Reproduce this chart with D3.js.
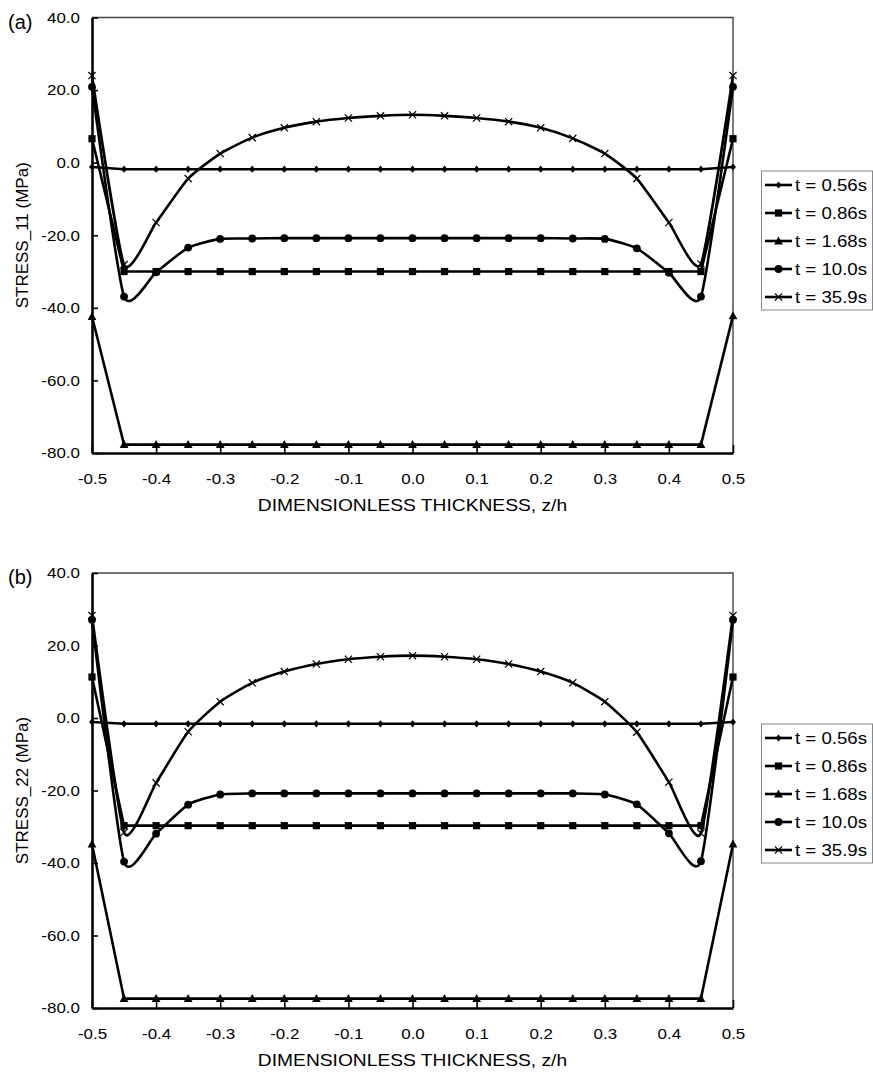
<!DOCTYPE html>
<html>
<head>
<meta charset="utf-8">
<script src="https://cdn.jsdelivr.net/npm/d3@7"></script>
<style>
  body { margin: 0; background: #fff; }
  text { font-family: "Liberation Sans", Arial, sans-serif; fill: #000; }
</style>
</head>
<body>
<script>
// thickness positions (z/h)
const zh = [-0.5, -0.45, -0.4, -0.35, -0.3, -0.25, -0.2, -0.15, -0.1, -0.05, 0,
            0.05, 0.1, 0.15, 0.2, 0.25, 0.3, 0.35, 0.4, 0.45, 0.5];
const legendLabels = ["t = 0.56s", "t = 0.86s", "t = 1.68s", "t = 10.0s", "t = 35.9s"];
const xTicks = [-0.5, -0.4, -0.3, -0.2, -0.1, 0, 0.1, 0.2, 0.3, 0.4, 0.5];
const yTicks = [40, 20, 0, -20, -40, -60, -80];

// (a) STRESS_11
const a056 = [-1.2, -1.8, -1.8, -1.8, -1.8, -1.8, -1.8, -1.8, -1.8, -1.8, -1.8, -1.8, -1.8, -1.8, -1.8, -1.8, -1.8, -1.8, -1.8, -1.8, -1.2];
const a086 = [6.6, -30.0, -30.0, -30.0, -30.0, -30.0, -30.0, -30.0, -30.0, -30.0, -30.0, -30.0, -30.0, -30.0, -30.0, -30.0, -30.0, -30.0, -30.0, -30.0, 6.6];
const a168 = [-42.4, -77.7, -77.7, -77.7, -77.7, -77.7, -77.7, -77.7, -77.7, -77.7, -77.7, -77.7, -77.7, -77.7, -77.7, -77.7, -77.7, -77.7, -77.7, -77.7, -42.2];
const a100 = [20.9, -36.9, -30.2, -23.4, -21.0, -20.9, -20.8, -20.8, -20.8, -20.8, -20.8, -20.8, -20.8, -20.8, -20.8, -20.9, -21.0, -23.6, -30.3, -36.9, 20.9];
const a359 = [24.0, -28.1, -16.5, -4.4, 2.5, 6.9, 9.6, 11.3, 12.3, 12.9, 13.2, 12.9, 12.3, 11.3, 9.6, 6.7, 2.5, -4.4, -16.5, -27.9, 24.0];

// (b) STRESS_22
const b056 = [-1.1, -1.6, -1.6, -1.6, -1.6, -1.6, -1.6, -1.6, -1.6, -1.6, -1.6, -1.6, -1.6, -1.6, -1.6, -1.6, -1.6, -1.6, -1.6, -1.6, -1.1];
const b086 = [11.3, -29.7, -29.7, -29.7, -29.7, -29.7, -29.7, -29.7, -29.7, -29.7, -29.7, -29.7, -29.7, -29.7, -29.7, -29.7, -29.7, -29.7, -29.7, -29.7, 11.3];
const b168 = [-34.8, -77.4, -77.4, -77.4, -77.4, -77.4, -77.4, -77.4, -77.4, -77.4, -77.4, -77.4, -77.4, -77.4, -77.4, -77.4, -77.4, -77.4, -77.4, -77.4, -34.8];
const b100 = [27.1, -39.6, -31.9, -23.9, -21.1, -20.8, -20.8, -20.8, -20.8, -20.8, -20.8, -20.8, -20.8, -20.8, -20.8, -20.8, -21.1, -23.8, -31.8, -39.5, 27.1];
const b359 = [28.3, -31.6, -17.9, -3.8, 4.5, 9.7, 12.8, 14.9, 16.2, 16.9, 17.2, 16.9, 16.2, 14.9, 12.8, 9.7, 4.5, -3.9, -17.7, -31.8, 28.3];

const width = 873, height = 1072;
const stretchK = 1.13;

const svg = d3.select("body").append("svg")
    .attr("width", width)
    .attr("height", height);

// the scan looks a bit wide, so widen the text a little
function stretch(sel) {
  sel.each(function () {
    const w = this.getComputedTextLength();
    this.setAttribute("textLength", w * stretchK);
    this.setAttribute("lengthAdjust", "spacingAndGlyphs");
  });
}

// plain hyphen for negatives, like the original
const fmt = (d) => d3.format(".1f")(d).replace("\u2212", "-");

// marker shapes
const markers = [
  "M0,-3.6L3,0L0,3.6L-3,0Z",
  "M-3.6,-3.6h7.2v7.2h-7.2Z",
  "M0,-4.6L4.4,3.4L-4.4,3.4Z",
  "circle",
  "M-3.6,-3.6L3.6,3.6M3.6,-3.6L-3.6,3.6"
];
const smooth = [false, false, false, true, true];

const x = d3.scaleLinear().domain([-0.5, 0.5]).range([92, 733]);

const panels = [
  { tag: "(a)", top: 17.5, bottom: 453, ylabel: "STRESS_11 (MPa)", legTop: 171,
    series: [a056, a086, a168, a100, a359] },
  { tag: "(b)", top: 573, bottom: 1008, ylabel: "STRESS_22 (MPa)", legTop: 724,
    series: [b056, b086, b168, b100, b359] }
];

panels.forEach((p) => {
  const y = d3.scaleLinear().domain([-80, 40]).range([p.bottom, p.top]);
  const g = svg.append("g");

  // thin top / right border
  g.append("path")
      .attr("d", `M${x(-0.5)},${p.top}H${x(0.5)}V${p.bottom}`)
      .attr("fill", "none")
      .attr("stroke", "#444")
      .attr("stroke-width", 1.4);

  // y axis
  const ya = g.append("g")
      .attr("transform", `translate(${x(-0.5)},0)`)
      .call(d3.axisLeft(y).tickValues(yTicks).tickFormat(fmt)
        .tickSizeInner(-6).tickSizeOuter(0).tickPadding(12));
  ya.select(".domain").attr("stroke", "#000").attr("stroke-width", 2.6);
  ya.selectAll(".tick line").attr("stroke", "#000").attr("stroke-width", 1.6);
  ya.selectAll(".tick text").attr("font-size", 15).attr("font-family", null).call(stretch);

  // x axis
  const xa = g.append("g")
      .attr("transform", `translate(0,${p.bottom})`)
      .call(d3.axisBottom(x).tickValues(xTicks).tickFormat(fmt)
        .tickSizeInner(-8).tickSizeOuter(0).tickPadding(20));
  xa.select(".domain").attr("stroke", "#000").attr("stroke-width", 2.6);
  xa.selectAll(".tick line").attr("stroke", "#000").attr("stroke-width", 1.6);
  xa.selectAll(".tick text").attr("font-size", 15).attr("font-family", null).call(stretch);

  // titles
  g.append("text")
      .attr("x", (x(-0.5) + x(0.5)) / 2)
      .attr("y", p.bottom + 58)
      .attr("text-anchor", "middle")
      .attr("font-size", 17)
      .text("DIMENSIONLESS THICKNESS, z/h")
      .call(stretch);

  g.append("text")
      .attr("transform", `translate(28,${(p.top + p.bottom) / 2}) rotate(-90)`)
      .attr("text-anchor", "middle")
      .attr("font-size", 17)
      .text(p.ylabel);

  g.append("text")
      .attr("x", 8)
      .attr("y", p.top + 11)
      .attr("font-size", 20)
      .text(p.tag);

  // series
  p.series.forEach((vals, i) => {
    const pts = zh.map((z, k) => [x(z), y(vals[k])]);
    const line = d3.line().curve(smooth[i] ? d3.curveCardinal.tension(0.45) : d3.curveLinear);
    const s = g.append("g");
    s.append("path")
        .attr("d", line(pts))
        .attr("fill", "none")
        .attr("stroke", "#000")
        .attr("stroke-width", 2.6)
        .attr("stroke-linejoin", "round");
    drawMarkers(s, pts, i);
  });

  // legend
  const lg = g.append("g");
  const legBottom = p.legTop + 14 + 4 * 28 + 13;
  lg.append("rect")
      .attr("x", 761.5)
      .attr("y", p.legTop)
      .attr("width", 111)
      .attr("height", legBottom - p.legTop)
      .attr("fill", "#fff")
      .attr("stroke", "#888")
      .attr("stroke-width", 1);
  legendLabels.forEach((lab, i) => {
    const cy = p.legTop + 14 + i * 28;
    lg.append("line")
        .attr("x1", 765).attr("x2", 792)
        .attr("y1", cy).attr("y2", cy)
        .attr("stroke", "#000")
        .attr("stroke-width", 2.6);
    drawMarkers(lg, [[778.5, cy]], i);
    lg.append("text")
        .attr("x", 795)
        .attr("y", cy + 6)
        .attr("font-size", 16.5)
        .text(lab)
        .call(stretch);
  });
});

function drawMarkers(parent, pts, i) {
  pts.forEach(([px, py]) => {
    if (markers[i] === "circle") {
      parent.append("circle")
          .attr("cx", px).attr("cy", py).attr("r", 3.9)
          .attr("fill", "#000");
    } else if (i === 4) {
      parent.append("path")
          .attr("transform", `translate(${px},${py})`)
          .attr("d", markers[i])
          .attr("fill", "none")
          .attr("stroke", "#000")
          .attr("stroke-width", 1.2);
    } else {
      parent.append("path")
          .attr("transform", `translate(${px},${py})`)
          .attr("d", markers[i])
          .attr("fill", "#000");
    }
  });
}
</script>
</body>
</html>
